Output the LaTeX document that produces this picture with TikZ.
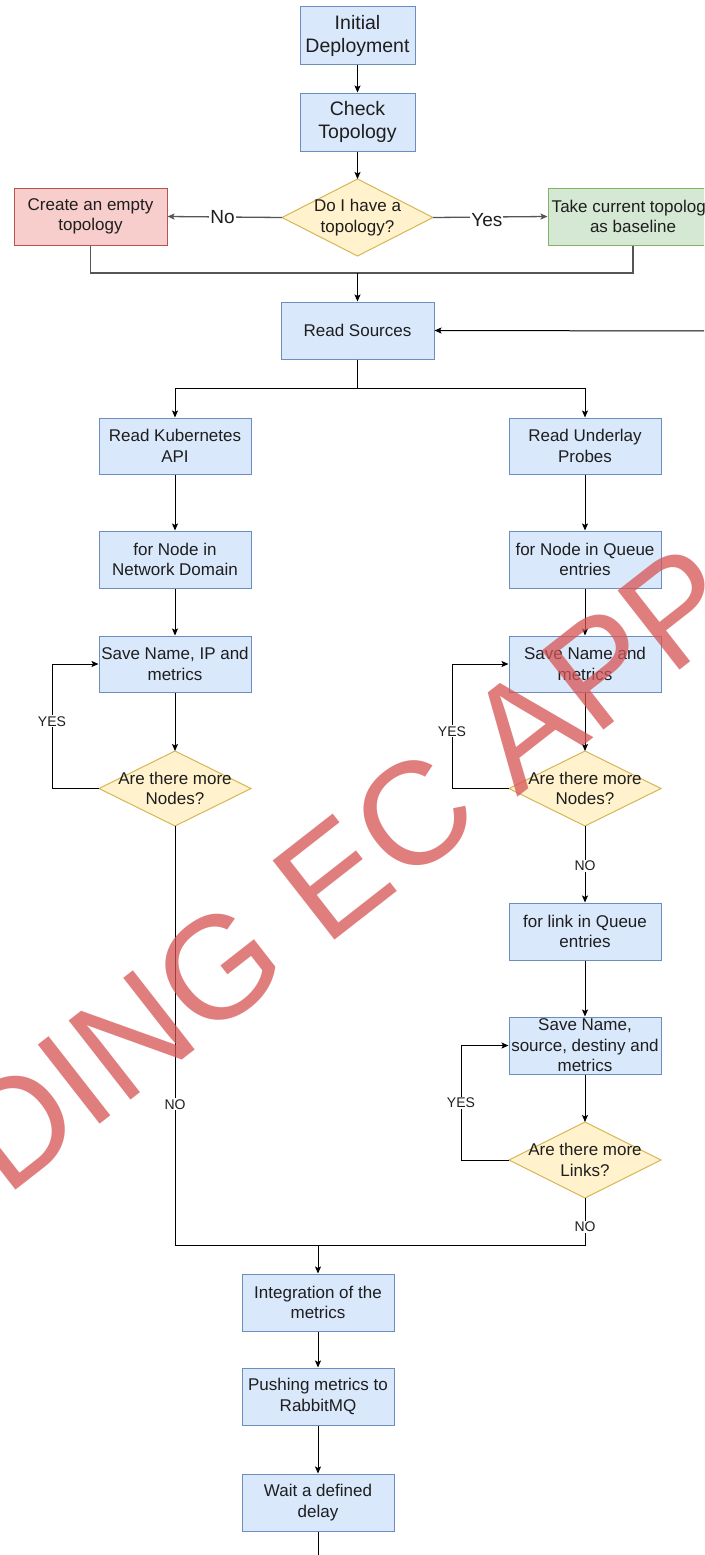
\documentclass[tikz,border=0pt]{standalone}
\usepackage{fontspec}
\setmainfont{Liberation Sans}
\usetikzlibrary{arrows.meta,shapes.geometric}
\definecolor{bfill}{HTML}{DAE8FC}\definecolor{bdraw}{HTML}{6C8EBF}
\definecolor{yfill}{HTML}{FFF2CC}\definecolor{ydraw}{HTML}{D6B656}
\definecolor{rfill}{HTML}{F8CECC}\definecolor{rdraw}{HTML}{B85450}
\definecolor{gfill}{HTML}{D5E8D4}\definecolor{gdraw}{HTML}{82B366}
\definecolor{txt}{HTML}{1E1E1E}
\definecolor{lgray}{HTML}{555555}
\definecolor{wm}{RGB}{214,84,84}
\begin{document}
\begin{tikzpicture}[x=1pt,y=-1pt,
  box/.style={draw=bdraw, fill=bfill, line width=1pt, minimum width=152pt, minimum height=57pt,
    inner sep=0pt, align=center, text=txt, font=\fontsize{17}{20.5}\selectfont},
  bigbox/.style={box, minimum width=115pt, minimum height=58pt, font=\fontsize{19.5}{23}\selectfont},
  dia/.style={diamond, draw=ydraw, fill=yfill, line width=1pt, inner sep=0pt, outer sep=0pt,
    minimum width=152pt, minimum height=76pt},
  dtext/.style={align=center, text=txt, font=\fontsize{17}{20.5}\selectfont, inner sep=0pt},
  arr/.style={line width=1pt, -{Stealth[length=7pt,width=6pt,inset=1.5pt]}},
  ln/.style={line width=1pt},
  glink/.style={line width=1.3pt, draw=lgray},
  lbl/.style={fill=white, inner sep=1pt, text=txt, font=\fontsize{14}{16}\selectfont},
  lblbig/.style={fill=white, inner sep=1pt, text=txt, font=\fontsize{19}{22}\selectfont},
]
\useasboundingbox (0,0) rectangle (704,1555);
\fill[white] (0,0) rectangle (704,1555);
\clip (0,0) rectangle (704,1555);

% nodes
\node[bigbox] (init) at (357.5,36) {Initial\\Deployment};
\node[bigbox] (check) at (357.5,122) {Check\\Topology};
\node[dia, minimum width=151pt, minimum height=77pt,
  label={[dtext]center:Do I have a\\topology?}] (dtop) at (357.5,217.5) {};
\node[box, draw=rdraw, fill=rfill, minimum width=153pt] (create) at (90.5,216.5) {Create an empty\\topology};
\node[box, draw=gdraw, fill=gfill, minimum width=170pt] (take) at (633,216.5) {Take current topology\\as baseline};
\node[box, minimum width=153pt] (read) at (357.5,330.5) {Read Sources};
\node[box, minimum height=56pt] (kube) at (175,446) {Read Kubernetes\\API};
\node[box, minimum height=56pt] (under) at (585,446) {Read Underlay\\Probes};
\node[box] (fn1) at (175,559.5) {for Node in\\Network Domain};
\node[box] (fn2) at (585,559.5) {for Node in Queue\\entries};
\node[box, minimum height=56pt] (sv1) at (175,664) {Save Name, IP and\\metrics};
\node[box, minimum height=56pt] (sv2) at (585,664) {Save Name and\\metrics};
\node[dia, minimum height=75pt, label={[dtext]center:Are there more\\Nodes?}] (dn1) at (175,788.5) {};
\node[dia, minimum height=75pt, label={[dtext]center:Are there more\\Nodes?}] (dn2) at (585,788.5) {};
\node[box] (fl) at (585,931.5) {for link in Queue\\entries};
\node[box] (svl) at (585,1045.5) {Save Name,\\source, destiny and\\metrics};
\node[dia, label={[dtext]center:Are there more\\Links?}] (dl) at (585,1160) {};
\node[box] (integ) at (318,1302.5) {Integration of the\\metrics};
\node[box] (push) at (318,1396.5) {Pushing metrics to\\RabbitMQ};
\node[box] (wait) at (318,1502.5) {Wait a defined\\delay};

% coordinates
\coordinate (m0) at (357.5,273);
\coordinate (s) at (357.5,388);
\coordinate (m) at (318,1245);
\coordinate (rin) at (708,331);
\coordinate (bot) at (318,1560);
\coordinate (l1) at (52,788.5);
\coordinate (l2) at (452,788.5);
\coordinate (l3) at (461,1160);

% connectors
\draw[arr] (init) -- (check);
\draw[arr] (check) -- (dtop);
\draw[arr, glink] (dtop.west) -- node[lblbig, pos=0.52]{No} (create.east);
\draw[arr, glink] (dtop.east) -- node[lblbig, pos=0.47, yshift=-3pt]{Yes} (take.west);
\draw[glink] (create.south) |- (m0);
\draw[glink] (take.south) |- (m0);
\draw[arr] (m0) -- (read.north);
\draw[arr] (rin) -- (read.east);
\draw[ln] (read.south) -- (s);
\draw[arr] (s) -| (kube.north);
\draw[arr] (s) -| (under.north);
\draw[arr] (kube) -- (fn1);
\draw[arr] (fn1) -- (sv1);
\draw[arr] (sv1) -- (dn1.north);
\draw[arr] (under) -- (fn2);
\draw[arr] (fn2) -- (sv2);
\draw[arr] (sv2) -- (dn2.north);
\draw[arr] (dn1.west) -- (l1) |- node[lbl, pos=0.27]{YES} (sv1.west);
\draw[arr] (dn2.west) -- (l2) |- node[lbl, pos=0.23]{YES} (sv2.west);
\draw[arr] (dn2.south) -- node[lbl, pos=0.52]{NO} (fl.north);
\draw[arr] (fl) -- (svl);
\draw[arr] (svl) -- (dl.north);
\draw[arr] (dl.west) -- (l3) |- node[lbl, pos=0.25]{YES} (svl.west);
\draw[ln] (dn1.south) |- node[lbl, pos=0.332]{NO} (m);
\draw[ln] (dl.south) |- node[lbl, pos=0.31]{NO} (m);
\draw[arr] (m) -- (integ.north);
\draw[arr] (integ) -- (push);
\draw[arr] (push) -- (wait);
\draw[ln] (wait.south) -- (bot);

% watermark
\node[text=wm, opacity=0.75, rotate=38, inner sep=0pt,
  font=\fontsize{146}{146}\selectfont] (wmk) at (346,868) {DING EC APP};
\end{tikzpicture}
\end{document}
